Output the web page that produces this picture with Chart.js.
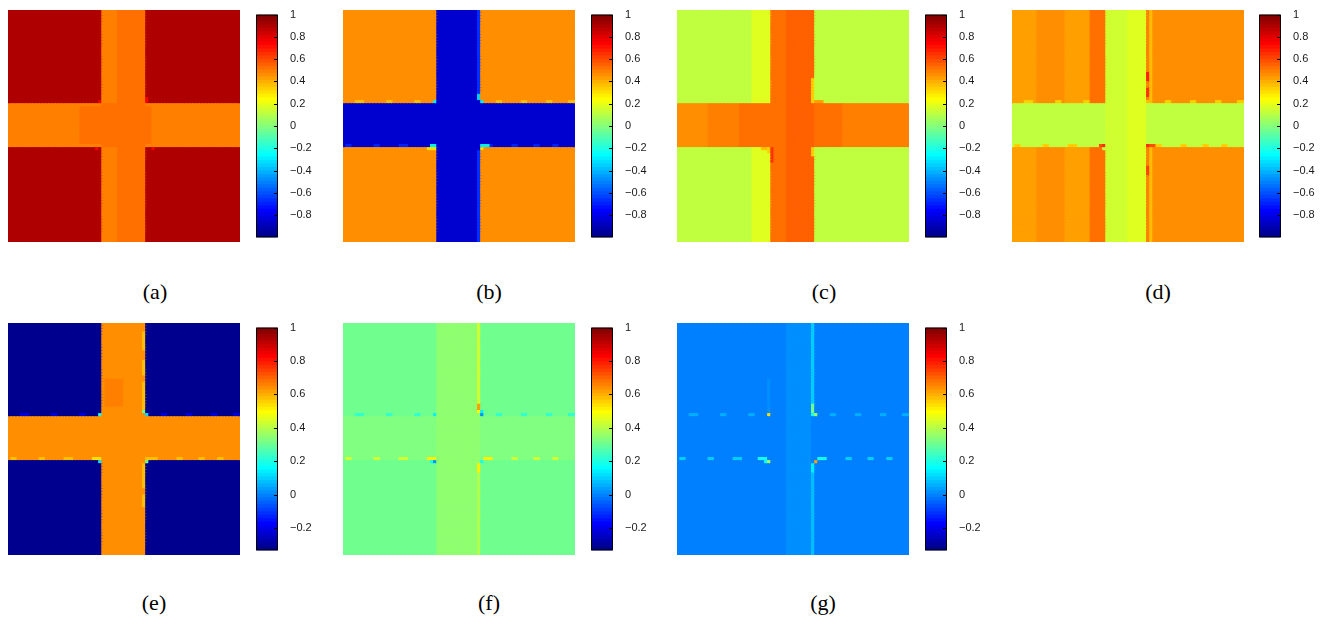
<!DOCTYPE html>
<html>
<head>
<meta charset="utf-8">
<script src="https://cdn.jsdelivr.net/npm/chart.js@4.4.1/dist/chart.umd.min.js"></script>
<style>
  body { margin: 0; background: #fff; width: 1325px; height: 626px; position: relative; overflow: hidden; }
  canvas { position: absolute; }
  .lbl { position: absolute; font-family: 'Liberation Serif', serif; font-size: 22px; color: #000; transform: translate(-50%, -50%); white-space: nowrap; }
</style>
</head>
<body>
<script>
// grid of the field images, in cells
const GRID = 74;

// colour scales of the two rows
const RANGE_TOP = [-1, 1];
const RANGE_BOT = [-0.333, 1];
const TICKS_TOP = [1, 0.8, 0.6, 0.4, 0.2, 0, -0.2, -0.4, -0.6, -0.8];
const TICKS_BOT = [1, 0.8, 0.6, 0.4, 0.2, 0, -0.2];
const LABELS = ['(a)', '(b)', '(c)', '(d)', '(e)', '(f)', '(g)'];

// columns of the small artefacts along rows 29 and 43
const DASH_COLS_29 = [4, 5, 6, 14, 15, 23, 24, 49, 50, 57, 58, 65, 66, 72, 73];
const DASH_COLS_43 = [1, 2, 10, 11, 18, 19, 20, 45, 46, 47, 54, 55, 61, 62, 67, 68];

// regions: [col0, col1, row0, row1, value]
const baseA = [[0,73,0,73,0.891],[0,73,30,43,0.484],[23,45,31,42,0.516],[30,43,0,73,0.516],[30,34,0,29,0.484],[30,34,44,73,0.484]];
const dashA = [null, null];
const spotA = [[44,44,28,29,0.766],[29,29,29,29,0.766],[28,28,44,44,0.766],[46,46,44,44,0.766]];

const baseB = [[0,73,0,73,0.453],[30,43,0,73,-0.859],[0,73,30,43,-0.859]];
const dashB = [0.359, -0.703];
const spotB = [[43,43,0,26,-0.672],[43,43,45,73,-0.672],[43,43,27,28,-0.359],[44,44,29,29,-0.297],[29,29,29,29,-0.297],[28,29,43,43,-0.297],[27,29,44,44,0.297],[44,46,43,43,-0.297],[44,44,44,44,0.297]];

const baseC = [[0,73,0,73,0.109],[24,29,0,29,0.172],[24,29,44,73,0.172],[0,73,30,43,0.484],[0,9,30,43,0.453],[20,52,30,43,0.516],[30,34,0,73,0.516],[35,43,0,73,0.547]];
const dashC = [null, null];
const spotC = [[43,43,22,29,0.328],[43,43,44,46,0.328],[27,29,44,44,0.359],[44,46,29,29,0.422],[30,30,44,48,0.641],[29,29,44,45,0.328]];

const baseD = [[0,73,0,73,0.453],[0,7,0,73,0.422],[17,24,0,73,0.422],[25,29,0,73,0.516],[0,73,30,43,0.109],[30,36,0,73,0.141],[37,42,0,73,0.172],[43,43,0,29,0.484],[43,43,44,73,0.484],[44,44,0,29,0.359],[44,44,44,73,0.359]];
const dashD = [0.328, 0.328];
const spotD = [[43,43,20,22,0.672],[43,43,25,27,0.641],[43,43,50,52,0.609],[29,29,43,43,0.641],[28,28,43,43,0.578],[29,29,44,44,0.109],[43,43,43,43,0.641],[44,45,43,43,0.578],[43,43,29,29,0.359]];

const baseE = [[0,73,0,73,-0.323],[30,43,0,73,0.635],[0,73,30,43,0.635],[31,36,18,26,0.656]];
const dashE = [-0.219, 0.573];
const spotE = [[43,43,3,8,0.573],[43,43,12,16,0.573],[43,43,19,27,0.573],[43,43,28,28,0.302],[44,44,29,29,0.115],[29,29,29,29,0.177],[27,29,43,43,0.531],[29,29,44,44,0.115],[44,46,43,43,0.573],[44,44,44,44,0.302],[43,43,45,52,0.573],[43,43,55,58,0.573]];

const baseF = [[0,73,0,73,0.302],[0,73,30,43,0.323],[30,43,0,73,0.344]];
const dashF = [0.219, 0.427];
const spotF = [[43,43,0,25,0.427],[43,43,26,27,0.615],[43,43,28,28,0.49],[44,44,28,28,0.135],[44,44,29,29,0.01],[29,29,29,29,0.135],[27,29,43,43,0.51],[29,29,44,44,0.01],[28,28,44,44,0.177],[45,47,43,43,0.51],[44,44,44,44,0.177],[43,43,45,47,0.51],[43,43,48,73,0.385]];

const baseG = [[0,73,0,73,-0.010],[35,42,0,73,0.010]];
const dashG = [0.052, 0.094];
const spotG = [[43,43,0,25,0.094],[43,43,26,28,0.302],[43,43,29,29,0.177],[44,44,29,29,0.365],[29,29,29,29,0.531],[29,29,18,28,0.010],[26,28,43,43,0.177],[29,29,44,44,0.385],[28,28,44,44,0.177],[44,44,44,44,0.615],[45,47,43,43,0.177],[43,43,45,47,0.135],[43,43,48,73,0.073]];

const PANELS = [
  { base: baseA, dash: dashA, spot: spotA, range: RANGE_TOP, ticks: TICKS_TOP },
  { base: baseB, dash: dashB, spot: spotB, range: RANGE_TOP, ticks: TICKS_TOP },
  { base: baseC, dash: dashC, spot: spotC, range: RANGE_TOP, ticks: TICKS_TOP },
  { base: baseD, dash: dashD, spot: spotD, range: RANGE_TOP, ticks: TICKS_TOP },
  { base: baseE, dash: dashE, spot: spotE, range: RANGE_BOT, ticks: TICKS_BOT },
  { base: baseF, dash: dashF, spot: spotF, range: RANGE_BOT, ticks: TICKS_BOT },
  { base: baseG, dash: dashG, spot: spotG, range: RANGE_BOT, ticks: TICKS_BOT }
];

// page layout
const HEAT_POS = [[8,10],[343,10],[677,10],[1012,10],[8,323],[343,323],[677,323]];
const CBAR_X = [256, 591, 925, 1259, 256, 591, 925];
const LABEL_POS = [[155,292],[489,292],[824,292],[1158,292],[154,603],[489,603],[823,603]];
const HEAT_SIZE = 232;
const CBAR_W = 22;
const CBAR_AXIS_W = 34;
const CBAR_PAD = 6;

// MATLAB jet(64)
function jet(i) {
  const r = i < 24 ? 0 : i < 40 ? (i - 23) / 16 : i < 56 ? 1 : 1 - (i - 55) / 16;
  const g = i < 8 ? 0 : i < 24 ? (i - 7) / 16 : i < 40 ? 1 : i < 56 ? 1 - (i - 39) / 16 : 0;
  const b = i < 8 ? (i + 9) / 16 : i < 24 ? 1 : i < 40 ? 1 - (i - 23) / 16 : 0;
  return `rgb(${Math.round(r * 255)},${Math.round(g * 255)},${Math.round(b * 255)})`;
}
function colorOf(v, range) {
  let i = Math.floor((v - range[0]) / (range[1] - range[0]) * 64);
  i = Math.max(0, Math.min(63, i));
  return jet(i);
}

function buildCells(p) {
  const grid = [];
  for (let r = 0; r < GRID; r++) grid.push(new Array(GRID).fill(0));
  const paint = ([c0, c1, r0, r1, v]) => {
    for (let r = r0; r <= r1; r++) for (let c = c0; c <= c1; c++) grid[r][c] = v;
  };
  p.base.forEach(paint);
  if (p.dash[0] !== null) DASH_COLS_29.forEach(c => paint([c, c, 29, 29, p.dash[0]]));
  if (p.dash[1] !== null) DASH_COLS_43.forEach(c => paint([c, c, 43, 43, p.dash[1]]));
  p.spot.forEach(paint);
  const pts = [];
  for (let r = 0; r < GRID; r++) for (let c = 0; c < GRID; c++) pts.push({ x: c, y: r, v: grid[r][c] });
  return pts;
}

function makeCanvas(left, top, w, h) {
  const cv = document.createElement('canvas');
  cv.width = w; cv.height = h;
  cv.style.left = left + 'px'; cv.style.top = top + 'px';
  cv.style.width = w + 'px'; cv.style.height = h + 'px';
  document.body.appendChild(cv);
  return cv;
}

// square cell, a little oversized so neighbours close the anti-aliasing seams
const cellRadius = (ctx) => {
  const s = ctx.chart.scales.x;
  return (Math.abs(s.getPixelForValue(1) - s.getPixelForValue(0)) + 1.6) * Math.SQRT1_2;
};

// frame and inward ticks of the colour bar
const cbFrame = {
  id: 'cbFrame',
  afterDraw(chart) {
    const { ctx, chartArea: a, scales: { y } } = chart;
    ctx.save();
    ctx.strokeStyle = '#000';
    ctx.lineWidth = 1;
    ctx.beginPath();
    ctx.rect(a.left + 0.5, a.top + 0.5, a.right - a.left - 1, a.bottom - a.top - 1);
    y.ticks.forEach(t => {
      const py = Math.round(y.getPixelForValue(t.value)) + 0.5;
      ctx.moveTo(a.right - 4, py);
      ctx.lineTo(a.right, py);
    });
    ctx.stroke();
    ctx.restore();
  }
};

const fmt = v => v === 0 ? '0' : (v < 0 ? '\u2212' : '') + String(Math.abs(v));

PANELS.forEach((p, k) => {
  const [hx, hy] = HEAT_POS[k];
  const pts = buildCells(p);

  new Chart(makeCanvas(hx, hy, HEAT_SIZE, HEAT_SIZE), {
    type: 'scatter',
    data: {
      datasets: [{
        data: pts,
        backgroundColor: pts.map(d => colorOf(d.v, p.range)),
        pointStyle: 'rect',
        pointRadius: cellRadius,
        pointHoverRadius: cellRadius,
        borderWidth: 0
      }]
    },
    options: {
      responsive: false,
      animation: false,
      events: [],
      layout: { padding: 0 },
      plugins: { legend: { display: false }, tooltip: { enabled: false } },
      scales: {
        x: { type: 'linear', min: -0.5, max: GRID - 0.5, display: false },
        y: { type: 'linear', min: -0.5, max: GRID - 0.5, reverse: true, display: false }
      }
    }
  });

  // colour bar: 64 floating bars
  const [lo, hi] = p.range;
  const step = (hi - lo) / 64;
  const segs = [];
  for (let i = 0; i < 64; i++) {
    segs.push({
      data: [[lo + i * step, Math.min(hi, lo + (i + 1) * step + step * 0.15)]],
      backgroundColor: jet(i),
      borderWidth: 0,
      grouped: false,
      barPercentage: 1,
      categoryPercentage: 1
    });
  }
  new Chart(makeCanvas(CBAR_X[k], hy - CBAR_PAD, CBAR_W + CBAR_AXIS_W, HEAT_SIZE + 2 * CBAR_PAD), {
    type: 'bar',
    data: { labels: [''], datasets: segs },
    options: {
      responsive: false,
      animation: false,
      events: [],
      layout: { padding: { top: CBAR_PAD, bottom: CBAR_PAD, left: 0, right: 0 } },
      plugins: { legend: { display: false }, tooltip: { enabled: false } },
      scales: {
        x: { display: false },
        y: {
          position: 'right',
          min: lo, max: hi,
          grid: { display: false },
          border: { display: false },
          afterBuildTicks: ax => { ax.ticks = p.ticks.map(v => ({ value: v })); },
          afterFit: ax => { ax.width = CBAR_AXIS_W; },
          ticks: {
            padding: 4,
            color: '#1a1a1a',
            font: { family: 'Liberation Sans', size: 11 },
            callback: v => fmt(v)
          }
        }
      }
    },
    plugins: [cbFrame]
  });

  const lbl = document.createElement('div');
  lbl.className = 'lbl';
  lbl.textContent = LABELS[k];
  lbl.style.left = LABEL_POS[k][0] + 'px';
  lbl.style.top = LABEL_POS[k][1] + 'px';
  document.body.appendChild(lbl);
});
</script>
</body>
</html>
